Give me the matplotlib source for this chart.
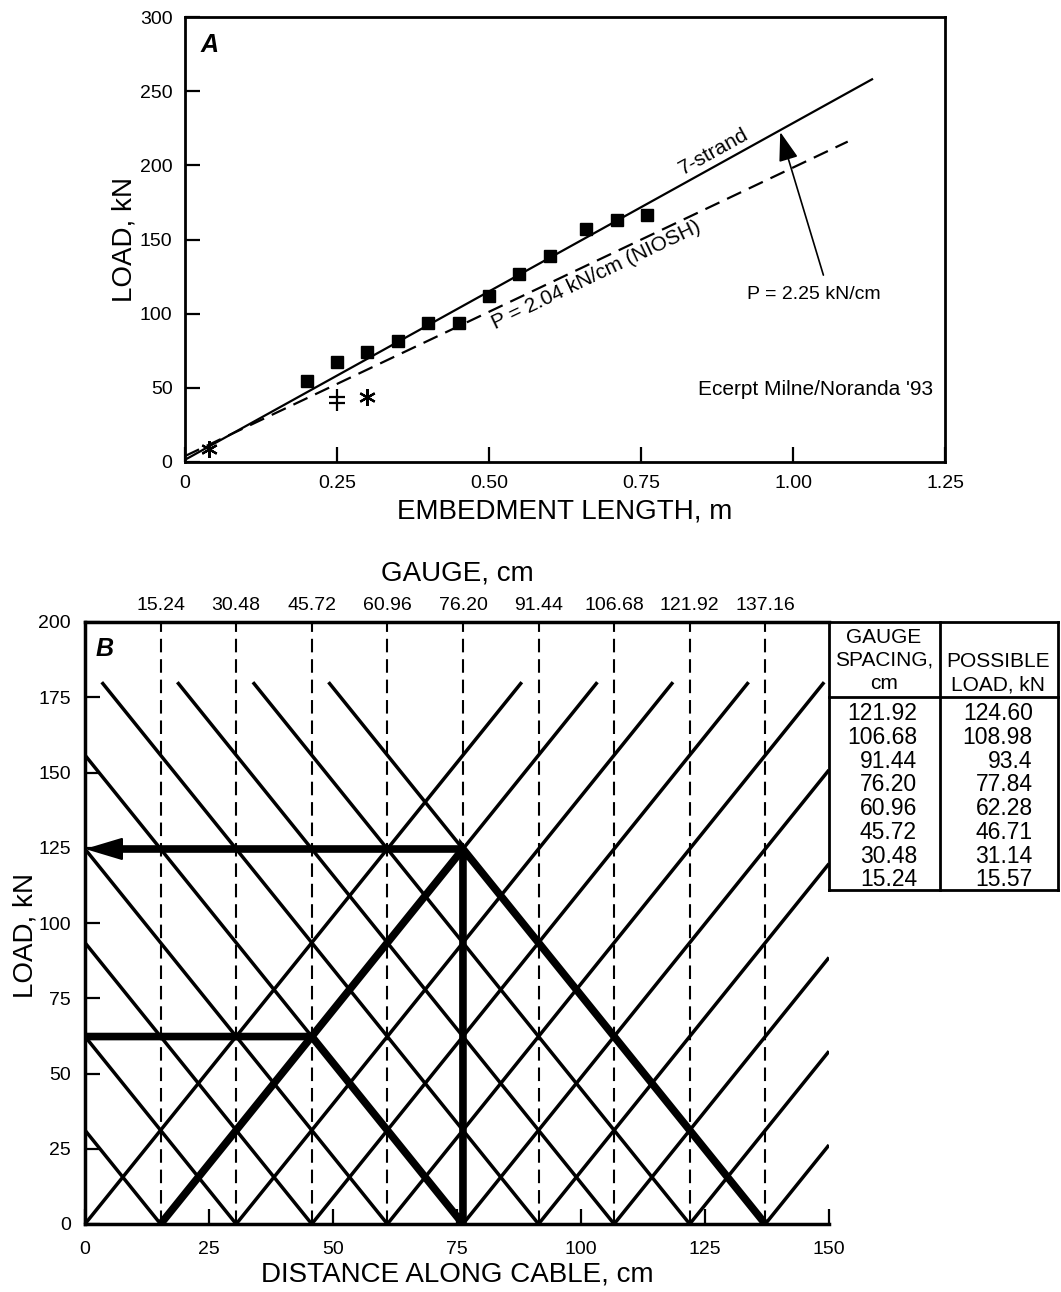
import matplotlib.pyplot as plt
import numpy as np
from matplotlib import font_manager
from matplotlib.path import Path

plt.rcParams['font.family'] = ['Liberation Sans', 'DejaVu Sans']

# axis-title font: narrow face if it is there, plain one otherwise
try:
    font_manager.findfont('Liberation Sans Narrow', fallback_to_default=False)
    label_kw = dict(family='Liberation Sans Narrow', fontsize=24)
except ValueError:
    label_kw = dict(family='Liberation Sans', fontsize=20)

# ---- panel A data
sq_len = [0.20, 0.25, 0.30, 0.35, 0.40, 0.45, 0.50, 0.55, 0.60, 0.66, 0.71, 0.76]
sq_load = [54.5, 67.5, 74, 81.5, 93.5, 93.5, 112, 127, 139, 157, 163, 166.5]
star_len = [0.04, 0.30]
star_load = [9, 44]
cross_len = [0.25]
cross_load = [42]
strand_x = [0, 1.13]
strand_y = [1.5, 258]
niosh_x = [0, 1.09]
niosh_y = [4, 216]

# ---- panel B data
gauges = [15.24, 30.48, 45.72, 60.96, 76.20, 91.44, 106.68, 121.92, 137.16]
gauge_labels = ['15.24', '30.48', '45.72', '60.96', '76.20', '91.44', '106.68', '121.92', '137.16']
spacing_col = ['121.92', '106.68', '91.44', '76.20', '60.96', '45.72', '30.48', '15.24']
load_col = ['124.60', '108.98', '93.4', '77.84', '62.28', '46.71', '31.14', '15.57']
slope = 2.044      # kN per cm
line_top = 180     # where the diagonal family stops
load_62 = 62.28
load_125 = 124.60

fig = plt.figure(figsize=(10.61, 12.92), dpi=100)

# ================= panel A =================
axa = fig.add_axes([185 / 1061, 1 - 462 / 1292, 760 / 1061, 445 / 1292])
axa.plot(strand_x, strand_y, color='black', lw=1.6)
axa.plot(niosh_x, niosh_y, color='black', lw=1.6, dashes=(7, 3.8))
axa.plot(sq_len, sq_load, 's', color='black', ms=9, ls='none')
axa.plot(star_len, star_load, marker=(6, 2, 0), color='black', ms=12, mew=1.6, ls='none')
cross = Path([(0, -1), (0, 1), (-0.7, 0.3), (0.7, 0.3), (-0.7, -0.3), (0.7, -0.3)],
             [Path.MOVETO, Path.LINETO, Path.MOVETO, Path.LINETO, Path.MOVETO, Path.LINETO])
axa.plot(cross_len, cross_load, marker=cross, color='black', mfc='none', ms=16, mew=1.6, ls='none')

axa.text(0.87, 209, '7-strand', rotation=29, ha='center', va='center', fontsize=15)
axa.text(0.677, 126, 'P = 2.04 kN/cm (NIOSH)', rotation=25.5, ha='center', va='center', fontsize=15)
axa.annotate('', xy=(0.979, 222.5), xytext=(1.05, 126),
             arrowprops=dict(arrowstyle='-|>,head_length=0.9,head_width=0.3', mutation_scale=20,
                             lw=1.2, color='black', shrinkA=0, shrinkB=0))
axa.text(1.035, 113, 'P = 2.25 kN/cm', ha='center', va='center', fontsize=14)
axa.text(1.23, 49, "Ecerpt Milne/Noranda '93", ha='right', va='center', fontsize=15)
axa.text(0.04, 281, 'A', fontsize=18, fontweight='bold', fontstyle='italic', ha='center', va='center')

axa.set_xlim(0, 1.25)
axa.set_ylim(0, 300)
axa.set_xticks([0, 0.25, 0.5, 0.75, 1.0, 1.25], labels=['0', '0.25', '0.50', '0.75', '1.00', '1.25'])
axa.set_yticks(range(0, 301, 50))
axa.tick_params(direction='in', length=11, width=1.6, labelsize=14, pad=9)
for s in axa.spines.values():
    s.set_linewidth(2)
axa.set_xlabel('EMBEDMENT LENGTH, m', **label_kw)
axa.set_ylabel('LOAD, kN', **label_kw)
axa.xaxis.set_label_coords(0.5, -0.083)
axa.yaxis.set_label_coords(-0.062, 0.5)

# ================= panel B =================
axb = fig.add_axes([85 / 1061, 1 - 1224 / 1292, 744 / 1061, 602 / 1292])
for g in gauges:
    axb.axvline(g, color='black', lw=1.5, dashes=(6.5, 3.3))

# rising family: from each gauge (and the origin) up to line_top or the right edge
for x0 in [0] + gauges:
    y1 = min(line_top, slope * (150 - x0))
    axb.plot([x0, x0 + y1 / slope], [0, y1], color='black', lw=2.5, solid_capstyle='butt')
# falling family: down to each gauge, starting at line_top or the left edge
for x1 in gauges:
    x0 = max(0, x1 - line_top / slope)
    axb.plot([x0, x1], [slope * (x1 - x0), 0], color='black', lw=2.5, solid_capstyle='butt')

# heavy path
heavy_x = [0, gauges[2], gauges[4], gauges[4], gauges[8]]
heavy_y = [load_62, load_62, 0, load_125, 0]
axb.plot(heavy_x, heavy_y, color='black', lw=5.5, solid_joinstyle='miter', solid_capstyle='butt')
axb.plot([gauges[0], gauges[4]], [0, load_125], color='black', lw=5.5, solid_capstyle='butt')
axb.plot([3, gauges[4]], [load_125, load_125], color='black', lw=5.5, solid_capstyle='butt')
axb.annotate('', xy=(0, load_125), xytext=(9, load_125),
             arrowprops=dict(arrowstyle='-|>,head_length=1.2,head_width=0.36', mutation_scale=20,
                             lw=1.5, color='black', shrinkA=0, shrinkB=0))
axb.text(4, 191, 'B', fontsize=18, fontweight='bold', fontstyle='italic', ha='center', va='center')

axb.set_xlim(0, 150)
axb.set_ylim(0, 200)
axb.set_xticks(range(0, 151, 25))
axb.set_yticks(range(0, 201, 25))
axb.tick_params(direction='in', length=11, width=1.6, labelsize=14, pad=10)
axb.tick_params(axis='x', pad=12)
for s in axb.spines.values():
    s.set_linewidth(2.5)
axb.spines['right'].set_visible(False)
axb.set_xlabel('DISTANCE ALONG CABLE, cm', **label_kw)
axb.set_ylabel('LOAD, kN', **label_kw)
axb.xaxis.set_label_coords(0.5, -0.063)
axb.yaxis.set_label_coords(-0.063, 0.48)

top = axb.secondary_xaxis('top')
top.set_xticks(gauges, labels=gauge_labels)
top.tick_params(length=0, pad=6, labelsize=14)
top.spines['top'].set_visible(False)
axb.text(0.5, 1.081, 'GAUGE, cm', transform=axb.transAxes, ha='center', va='center', **label_kw)

# ================= table =================
axt = fig.add_axes([829 / 1061, 1 - 890 / 1292, 229 / 1061, 268 / 1292])
axt.set_xlim(0, 1)
axt.set_ylim(1, 0)
axt.axis('off')
for xs, ys in [([0, 1], [0, 0]), ([0, 1], [1, 1]), ([0, 0], [0, 1]), ([1, 1], [0, 1]),
               ([0.485, 0.485], [0, 1]), ([0, 1], [0.28, 0.28])]:
    axt.plot(xs, ys, color='black', lw=2, clip_on=False, solid_capstyle='projecting')

for yy, t in zip([0.056, 0.142, 0.231], ['GAUGE', 'SPACING,', 'cm']):
    axt.text(0.24, yy, t, ha='center', va='center', fontsize=15)
for yy, t in zip([0.149, 0.235], ['POSSIBLE', 'LOAD, kN']):
    axt.text(0.738, yy, t, ha='center', va='center', fontsize=15)
for i, (a, b) in enumerate(zip(spacing_col, load_col)):
    yy = 0.343 + i * 0.0884
    axt.text(0.384, yy, a, ha='right', va='center', fontsize=16.5)
    axt.text(0.89, yy, b, ha='right', va='center', fontsize=16.5)

fig.savefig('out.png', dpi=100)
